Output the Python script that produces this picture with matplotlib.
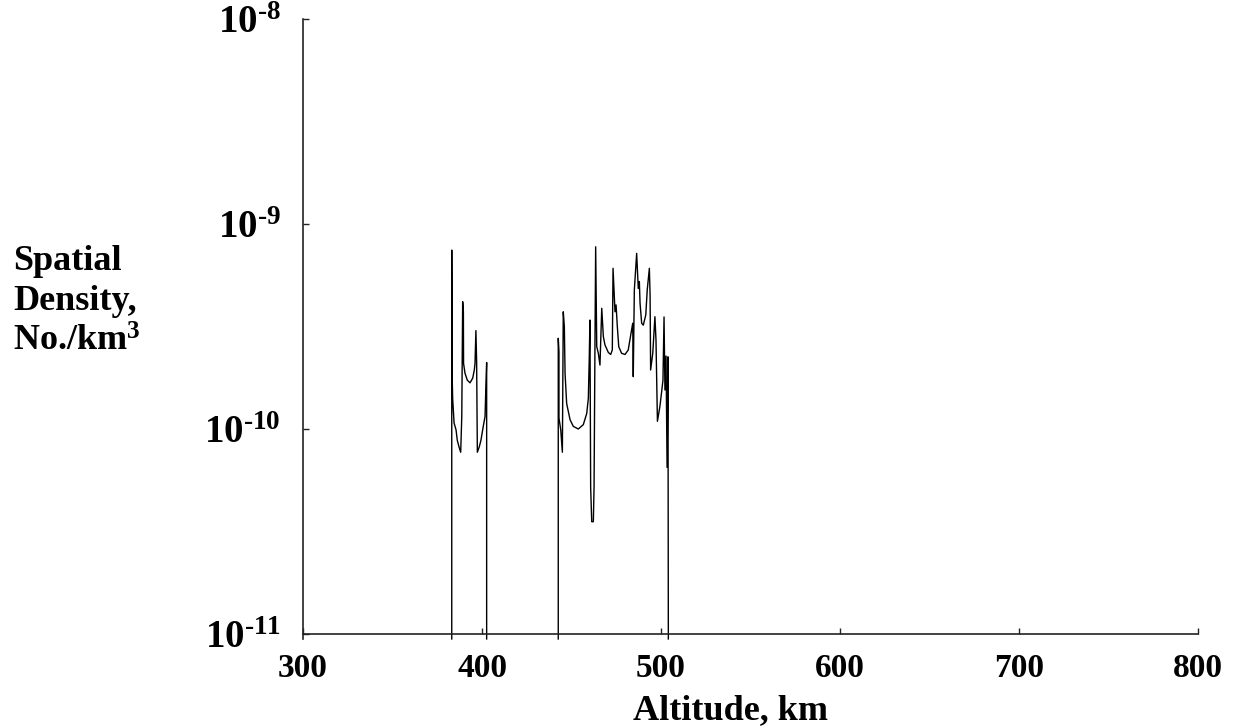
import matplotlib
matplotlib.use("Agg")
import matplotlib.pyplot as plt
from matplotlib.ticker import FixedLocator, NullLocator
import numpy as np

plt.rcParams['font.family'] = ['Liberation Serif', 'DejaVu Serif']
plt.rcParams['font.weight'] = 'bold'
plt.rcParams['mathtext.fontset'] = 'custom'
plt.rcParams['mathtext.rm'] = 'Liberation Serif:bold'
plt.rcParams['mathtext.bf'] = 'Liberation Serif:bold'
plt.rcParams['mathtext.it'] = 'Liberation Serif:bold'

# ---- data (altitude km, spatial density in units of 1e-10 No./km^3) ----
floor_val = 0.0946   # zero density, drawn just below the axis floor

g1_alt = [383.1, 383.1, 383.3, 383.6, 384.4, 385.5, 386.2, 387.3, 388.1, 388.7,
          389.2, 389.6, 389.7, 390.5, 391.8, 393.3, 394.8, 395.7, 396.1, 396.6,
          397.0, 397.4, 398.5, 399.4, 400.7, 401.7, 402.2, 402.6, 402.6]
g1_den = [floor_val, 7.46, 1.87, 1.41, 1.07, 0.99, 0.88, 0.81, 0.77, 1.15,
          4.18, 3.73, 2.09, 1.87, 1.73, 1.68, 1.77, 1.94, 2.09, 3.02,
          2.13, 0.77, 0.82, 0.88, 1.03, 1.15, 1.64, 2.11, floor_val]

g2_alt = [442.6, 442.6, 443.0, 443.0, 444.0, 444.9, 445.4, 446.0, 446.4, 447.3,
          449.2, 451.0, 453.8, 456.6, 458.5, 459.4, 459.9, 460.3, 460.7, 461.3,
          462.2, 462.6, 463.1, 463.5, 464.1, 465.0, 465.9, 466.9, 467.8, 468.7,
          470.6, 471.9, 472.8, 473.2, 474.3, 474.9, 475.6, 476.4, 478.0, 479.9,
          481.7, 483.1, 484.2, 484.5, 485.1, 486.4, 487.3, 487.9, 488.3, 489.2,
          490.1, 491.5, 492.3, 493.5, 493.9, 494.2, 495.4, 496.6, 497.2, 498.0,
          499.4, 501.1, 501.7, 502.2, 502.8, 503.4, 503.9, 504.1]
g2_den = [floor_val, 2.77, 2.38, 1.13, 0.99, 0.77, 3.73, 3.16, 1.87, 1.33,
          1.11, 1.03, 1.00, 1.05, 1.19, 1.41, 2.17, 3.40, 0.52, 0.353,
          0.353, 0.52, 2.52, 7.74, 2.52, 2.34, 2.05, 3.88, 2.82, 2.57,
          2.36, 2.31, 2.43, 6.08, 3.73, 4.03, 3.16, 2.52, 2.34, 2.31,
          2.43, 2.88, 3.28, 1.80, 4.76, 7.19, 4.85, 5.24, 4.10, 3.28,
          3.21, 3.60, 4.76, 6.08, 4.51, 1.94, 2.34, 3.53, 2.72, 1.09,
          1.29, 1.73, 3.52, 1.55, 2.27, 0.65, 2.25, floor_val]

x_ticks = [300, 400, 500, 600, 700, 800]
y_ticks = [1e-11, 1e-10, 1e-9, 1e-8]
y_tick_labels = ['$10^{\u201011}$', '$10^{\u201010}$', '$10^{\u20109}$', '$10^{\u20108}$']

fig = plt.figure(figsize=(12.44, 7.28), dpi=100)
ax = fig.add_axes([303/1244, 1 - 634/728, (1198 - 303)/1244, (634 - 19)/728])

for alt, den in ((g1_alt, g1_den), (g2_alt, g2_den)):
    ax.plot(alt, np.array(den) * 1e-10, color='black', lw=1.0, clip_on=False)

ax.set_yscale('log')
ax.set_xlim(300, 800)
ax.set_ylim(1e-11, 1e-8)
ax.xaxis.set_major_locator(FixedLocator(x_ticks))
ax.yaxis.set_major_locator(FixedLocator(y_ticks))
ax.yaxis.set_minor_locator(NullLocator())
ax.set_xticklabels([str(t) for t in x_ticks])
ax.set_yticklabels(y_tick_labels)

for side in ('top', 'right'):
    ax.spines[side].set_visible(False)
for side in ('left', 'bottom'):
    ax.spines[side].set_linewidth(1.2)
    ax.spines[side].set_color('#222222')
ax.spines['left'].set_bounds(floor_val * 1e-10, 1e-8)

ax.tick_params(axis='both', direction='in', length=4.5, width=1.0, color='#222222')
ax.tick_params(axis='x', labelsize=24, pad=14)
ax.tick_params(axis='y', labelsize=28, pad=16)

ax.set_xlabel('Altitude, km', fontsize=26, fontweight='bold')
ax.xaxis.set_label_coords(0.478, -0.097)

fig.text(13/1244, 1 - 302/728, 'Spatial\nDensity,\nNo./km$^{3}$', fontsize=26,
         fontweight='bold', ha='left', va='center', multialignment='left',
         linespacing=1.3)

fig.savefig('out.png', dpi=100)
